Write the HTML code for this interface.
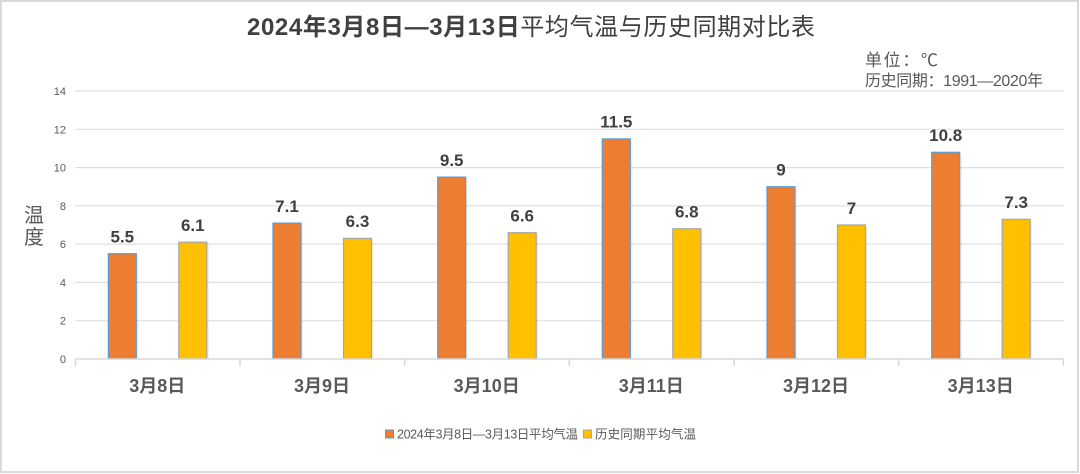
<!DOCTYPE html>
<html>
<head>
<meta charset="utf-8">
<style>
html,body{margin:0;padding:0;background:#fff;}
svg{display:block;}
text{font-family:"Liberation Sans","Noto Sans CJK SC",sans-serif;}
</style>
</head>
<body>
<svg width="1080" height="474" viewBox="0 0 1080 474" xmlns="http://www.w3.org/2000/svg">
  <rect x="0" y="0" width="1080" height="474" fill="#fff"/>
  <rect x="1" y="1" width="1077" height="471" fill="none" stroke="#d9d9d9" stroke-width="2"/>

  <!-- Title -->
  <text x="531" y="35" text-anchor="middle" font-size="24" fill="#404040" font-weight="bold" textLength="568" lengthAdjust="spacing">2024年3月8日—3月13日<tspan font-weight="normal">平均气温与历史同期对比表</tspan></text>

  <!-- Unit notes -->
  <text x="865" y="66" font-size="17" fill="#595959" textLength="73" lengthAdjust="spacing">单位：℃</text>
  <text x="865" y="86" font-size="16" fill="#595959" textLength="178" lengthAdjust="spacing">历史同期：1991—2020年</text>

  <!-- Y axis title -->
  <text x="34" y="222" text-anchor="middle" font-size="20" fill="#595959">温</text>
  <text x="34" y="244" text-anchor="middle" font-size="20" fill="#595959">度</text>

  <!-- Gridlines -->
  <g stroke="#e0e0e0" stroke-width="1.2">
    <line x1="75" y1="91" x2="1064" y2="91"/>
    <line x1="75" y1="129.3" x2="1064" y2="129.3"/>
    <line x1="75" y1="167.6" x2="1064" y2="167.6"/>
    <line x1="75" y1="205.9" x2="1064" y2="205.9"/>
    <line x1="75" y1="244.1" x2="1064" y2="244.1"/>
    <line x1="75" y1="282.4" x2="1064" y2="282.4"/>
    <line x1="75" y1="320.7" x2="1064" y2="320.7"/>
  </g>

  <!-- Y tick labels -->
  <g font-size="11" fill="#595959" text-anchor="end">
    <text x="66" y="95">14</text>
    <text x="66" y="133.3">12</text>
    <text x="66" y="171.6">10</text>
    <text x="66" y="209.9">8</text>
    <text x="66" y="248.1">6</text>
    <text x="66" y="286.4">4</text>
    <text x="66" y="324.7">2</text>
    <text x="66" y="363">0</text>
  </g>

  <!-- Bars -->
  <g stroke-width="1.2">
    <g fill="#000" opacity="0.06">
      <rect x="110.3" y="255.7" width="28" height="103.3"/>
      <rect x="180.8" y="244.2" width="28" height="114.8"/>
      <rect x="275" y="225.1" width="28" height="133.9"/>
      <rect x="345.5" y="240.4" width="28" height="118.6"/>
      <rect x="439.7" y="179.1" width="28" height="179.9"/>
      <rect x="510.2" y="234.7" width="28" height="124.3"/>
      <rect x="604.3" y="140.9" width="28" height="218.1"/>
      <rect x="674.8" y="230.8" width="28" height="128.2"/>
      <rect x="769" y="188.7" width="28" height="170.3"/>
      <rect x="839.5" y="227" width="28" height="132"/>
      <rect x="933.7" y="154.3" width="28" height="204.7"/>
      <rect x="1004.2" y="221.3" width="28" height="137.7"/>
    </g>
    <g fill="#ED7D31" stroke="#5B9BD5">
      <rect x="108.3" y="253.7" width="28" height="105.3"/>
      <rect x="273" y="223.1" width="28" height="135.9"/>
      <rect x="437.7" y="177.1" width="28" height="181.9"/>
      <rect x="602.3" y="138.9" width="28" height="220.1"/>
      <rect x="767" y="186.7" width="28" height="172.3"/>
      <rect x="931.7" y="152.3" width="28" height="206.7"/>
    </g>
    <g fill="#FFC000" stroke="#A5A5A5">
      <rect x="178.8" y="242.2" width="28" height="116.8"/>
      <rect x="343.5" y="238.4" width="28" height="120.6"/>
      <rect x="508.2" y="232.7" width="28" height="126.3"/>
      <rect x="672.8" y="228.8" width="28" height="130.2"/>
      <rect x="837.5" y="225" width="28" height="134"/>
      <rect x="1002.2" y="219.3" width="28" height="139.7"/>
    </g>
  </g>

  <!-- X axis -->
  <g stroke="#d9d9d9" stroke-width="1.5">
    <line x1="75" y1="359" x2="1064" y2="359"/>
    <line x1="75.5" y1="359" x2="75.5" y2="366"/>
    <line x1="240" y1="359" x2="240" y2="366"/>
    <line x1="404.7" y1="359" x2="404.7" y2="366"/>
    <line x1="569.3" y1="359" x2="569.3" y2="366"/>
    <line x1="734" y1="359" x2="734" y2="366"/>
    <line x1="898.7" y1="359" x2="898.7" y2="366"/>
    <line x1="1063.3" y1="359" x2="1063.3" y2="366"/>
  </g>

  <!-- Value labels -->
  <g font-size="17" font-weight="bold" fill="#404040" text-anchor="middle">
    <text x="122.3" y="242.5">5.5</text>
    <text x="192.8" y="231">6.1</text>
    <text x="287" y="212">7.1</text>
    <text x="357.5" y="227.2">6.3</text>
    <text x="451.7" y="166">9.5</text>
    <text x="522.2" y="221.5">6.6</text>
    <text x="616.3" y="127.7">11.5</text>
    <text x="686.8" y="217.6">6.8</text>
    <text x="781" y="175.5">9</text>
    <text x="851.5" y="213.8">7</text>
    <text x="945.7" y="141.1">10.8</text>
    <text x="1016.2" y="208.1">7.3</text>
  </g>

  <!-- Category labels -->
  <g font-size="18" font-weight="bold" fill="#595959" text-anchor="middle">
    <text x="157.3" y="392">3月8日</text>
    <text x="322" y="392">3月9日</text>
    <text x="486.7" y="392">3月10日</text>
    <text x="651.3" y="392">3月11日</text>
    <text x="816" y="392">3月12日</text>
    <text x="980.7" y="392">3月13日</text>
  </g>

  <!-- Legend -->
  <rect x="385.5" y="430" width="8" height="8" fill="#ED7D31" stroke="#5B9BD5" stroke-width="1"/>
  <text x="397" y="438.5" font-size="12.5" fill="#595959" textLength="181" lengthAdjust="spacing">2024年3月8日—3月13日平均气温</text>
  <rect x="583.5" y="430" width="8" height="8" fill="#FFC000" stroke="#A5A5A5" stroke-width="1"/>
  <text x="595" y="438.5" font-size="12.5" fill="#595959" textLength="101" lengthAdjust="spacing">历史同期平均气温</text>
</svg>
</body>
</html>
